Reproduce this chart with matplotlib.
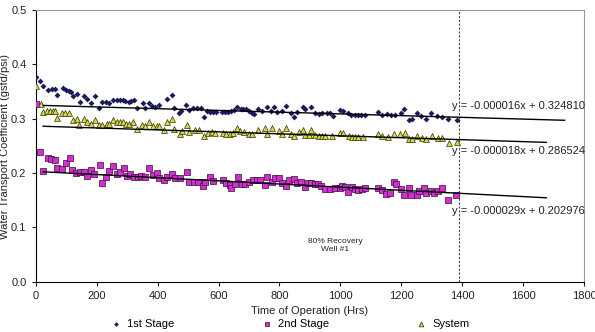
import matplotlib
matplotlib.use('Agg')
from matplotlib import pyplot as plt

plt.rcParams['font.family'] = ['Liberation Sans', 'DejaVu Sans']

# 1st Stage (hrs, coefficient)
stage1_x = [1, 16, 26, 42, 54, 65, 72, 89, 100, 109, 115, 122, 135, 146, 159, 170, 181, 194,
            209, 219, 231, 242, 255, 268, 276, 286, 295, 305, 312, 323, 334, 351, 360, 373,
            382, 393, 404, 430, 447, 454, 469, 478, 495, 504, 517, 528, 541, 552, 563, 572,
            581, 591, 613, 621, 630, 642, 652, 662, 673, 681, 690, 701, 710, 716, 729, 742,
            758, 771, 782, 793, 808, 821, 837, 847, 858, 876, 885, 902, 917, 928, 941, 955,
            966, 974, 998, 1009, 1025, 1035, 1046, 1057, 1068, 1079, 1123, 1136, 1153, 1164,
            1179, 1197, 1208, 1226, 1234, 1250, 1265, 1279, 1298, 1316, 1333, 1352, 1381]
stage1_y = [0.376, 0.370, 0.360, 0.353, 0.354, 0.355, 0.344, 0.356, 0.353, 0.351, 0.349,
            0.341, 0.345, 0.331, 0.342, 0.336, 0.329, 0.341, 0.320, 0.331, 0.331, 0.329,
            0.335, 0.334, 0.335, 0.334, 0.332, 0.331, 0.333, 0.334, 0.320, 0.329, 0.320,
            0.329, 0.324, 0.322, 0.326, 0.337, 0.343, 0.320, 0.310, 0.315, 0.326, 0.316,
            0.320, 0.319, 0.319, 0.303, 0.315, 0.313, 0.313, 0.313, 0.313, 0.313, 0.312,
            0.314, 0.316, 0.321, 0.317, 0.318, 0.317, 0.314, 0.310, 0.309, 0.317, 0.315,
            0.321, 0.314, 0.321, 0.312, 0.315, 0.323, 0.311, 0.303, 0.312, 0.321, 0.317,
            0.321, 0.310, 0.308, 0.310, 0.310, 0.310, 0.305, 0.316, 0.315, 0.310, 0.307,
            0.307, 0.307, 0.307, 0.307, 0.312, 0.306, 0.309, 0.306, 0.307, 0.310, 0.317,
            0.298, 0.300, 0.310, 0.305, 0.300, 0.310, 0.305, 0.303, 0.300, 0.297]

# 2nd Stage
stage2_x = [1, 16, 25, 40, 51, 64, 71, 88, 99, 112, 121, 134, 147, 160, 169, 182, 193, 210,
            217, 232, 241, 254, 267, 278, 289, 300, 311, 324, 335, 346, 359, 372, 385, 398,
            405, 420, 431, 449, 457, 473, 496, 504, 519, 534, 548, 557, 572, 583, 616, 624,
            637, 642, 653, 664, 677, 688, 701, 712, 725, 736, 751, 758, 777, 784, 797, 808,
            821, 832, 847, 856, 871, 882, 895, 904, 917, 926, 935, 948, 965, 982, 999, 1004,
            1015, 1026, 1037, 1048, 1059, 1070, 1080, 1124, 1135, 1150, 1161, 1174, 1181,
            1199, 1209, 1225, 1231, 1251, 1258, 1273, 1281, 1297, 1308, 1321, 1332, 1353, 1380]
stage2_y = [0.327, 0.238, 0.203, 0.228, 0.226, 0.224, 0.210, 0.208, 0.218, 0.228, 0.205,
            0.200, 0.201, 0.201, 0.195, 0.205, 0.198, 0.215, 0.182, 0.193, 0.204, 0.213,
            0.199, 0.202, 0.209, 0.195, 0.198, 0.193, 0.193, 0.195, 0.193, 0.209, 0.196,
            0.200, 0.191, 0.188, 0.193, 0.199, 0.190, 0.190, 0.201, 0.184, 0.183, 0.184,
            0.177, 0.183, 0.192, 0.186, 0.188, 0.181, 0.178, 0.172, 0.180, 0.192, 0.180,
            0.180, 0.184, 0.188, 0.187, 0.187, 0.178, 0.192, 0.183, 0.190, 0.190, 0.181,
            0.176, 0.187, 0.189, 0.181, 0.183, 0.174, 0.182, 0.181, 0.179, 0.180, 0.177,
            0.171, 0.170, 0.172, 0.173, 0.177, 0.174, 0.165, 0.175, 0.170, 0.169, 0.171,
            0.173, 0.172, 0.169, 0.161, 0.164, 0.183, 0.179, 0.171, 0.160, 0.172, 0.160,
            0.160, 0.167, 0.172, 0.164, 0.167, 0.164, 0.167, 0.173, 0.151, 0.160]

# System
system_x = [1, 17, 26, 37, 48, 56, 65, 72, 87, 98, 111, 122, 135, 144, 159, 170, 181, 194,
            209, 218, 233, 242, 255, 268, 276, 286, 296, 307, 320, 334, 349, 360, 373, 384,
            397, 406, 421, 432, 447, 454, 473, 480, 497, 504, 523, 536, 552, 567, 578, 589,
            615, 626, 637, 648, 661, 672, 685, 701, 710, 731, 753, 760, 777, 797, 808, 821,
            837, 847, 863, 876, 883, 896, 902, 917, 928, 939, 950, 972, 998, 1009, 1027,
            1037, 1048, 1059, 1074, 1123, 1136, 1155, 1177, 1195, 1210, 1226, 1234, 1252,
            1268, 1281, 1300, 1320, 1333, 1355, 1381]
system_y = [0.360, 0.327, 0.313, 0.314, 0.314, 0.314, 0.314, 0.301, 0.310, 0.310, 0.310,
            0.298, 0.300, 0.289, 0.300, 0.293, 0.290, 0.298, 0.289, 0.289, 0.290, 0.291,
            0.297, 0.293, 0.294, 0.294, 0.291, 0.291, 0.293, 0.281, 0.289, 0.286, 0.293,
            0.287, 0.286, 0.287, 0.279, 0.293, 0.300, 0.281, 0.272, 0.277, 0.289, 0.276,
            0.280, 0.279, 0.268, 0.274, 0.275, 0.274, 0.274, 0.272, 0.272, 0.274, 0.283,
            0.277, 0.276, 0.272, 0.272, 0.279, 0.283, 0.272, 0.282, 0.277, 0.272, 0.283,
            0.272, 0.269, 0.275, 0.279, 0.270, 0.270, 0.280, 0.270, 0.269, 0.269, 0.268,
            0.268, 0.274, 0.274, 0.269, 0.267, 0.267, 0.267, 0.267, 0.272, 0.268, 0.267,
            0.272, 0.272, 0.273, 0.262, 0.262, 0.268, 0.264, 0.262, 0.269, 0.265, 0.265,
            0.256, 0.257]

# linear trend fits: (slope, intercept, x start, x end)
fits = [(-0.000016, 0.324810, 25, 1735),
        (-0.000018, 0.286524, 25, 1675),
        (-0.000029, 0.202976, 25, 1675)]
fit_labels = ['y = -0.000016x + 0.324810',
              'y = -0.000018x + 0.286524',
              'y = -0.000029x + 0.202976']
label_y = [0.3236, 0.2405, 0.1308]

cutoff_hrs = 1390


def main() -> None:
    fig = plt.figure(figsize=(5.95, 3.32), dpi=100)
    ax = fig.add_axes([0.0597, 0.1515, 0.9226, 0.8184])

    ax.scatter(stage1_x, stage1_y, marker='D', s=9, color='#1a1a5c',
               linewidths=0, label='1st Stage', zorder=3)
    ax.scatter(stage2_x, stage2_y, marker='s', s=16, color='#d22fd2',
               edgecolors='#3a0a3a', linewidths=0.5, label='2nd Stage', zorder=3)
    ax.scatter(system_x, system_y, marker='^', s=18, color='#d4d84a',
               edgecolors='#333300', linewidths=0.5, label='System', zorder=3)

    for (m, b, x0, x1), txt, ty in zip(fits, fit_labels, label_y):
        ax.plot([x0, x1], [m * x0 + b, m * x1 + b], color='black', lw=1.0, zorder=4)
        ax.text(1802, ty, txt, ha='right', va='center', fontsize=8, color='#222222', zorder=5)

    ax.axvline(cutoff_hrs, color='#444444', lw=0.8, ls=(0, (2, 1.5)))
    ax.text(982, 0.066, '80% Recovery\nWell #1', ha='center', va='center',
            fontsize=6, color='#222222')

    ax.set_xlim(0, 1800)
    ax.set_ylim(0, 0.5)
    ax.set_xticks(range(0, 1801, 200))
    ax.set_yticks([0.0, 0.1, 0.2, 0.3, 0.4, 0.5])
    ax.set_yticklabels(['0.0', '0.1', '0.2', '0.3', '0.4', '0.5'])
    ax.tick_params(labelsize=8, length=3, width=0.8, colors='#222222')
    for side in ['top', 'right']:
        ax.spines[side].set_color('#999999')
    for side in ['left', 'bottom']:
        ax.spines[side].set_color('black')

    ax.set_xlabel('Time of Operation (Hrs)', fontsize=8, color='#222222', labelpad=4)
    fig.text(0.008, 0.56, 'Water Transport Coefficient (gsfd/psi)', rotation=90,
             ha='center', va='center', fontsize=8, color='#222222')

    ax.legend(loc='center', bbox_to_anchor=(0.464, -0.156), ncol=3, frameon=False,
              fontsize=8, handlelength=1.0, handletextpad=0.5, columnspacing=7.8,
              markerscale=0.8, borderpad=0.2)

    fig.savefig('out.png', dpi=100)


if __name__ == '__main__':
    main()
